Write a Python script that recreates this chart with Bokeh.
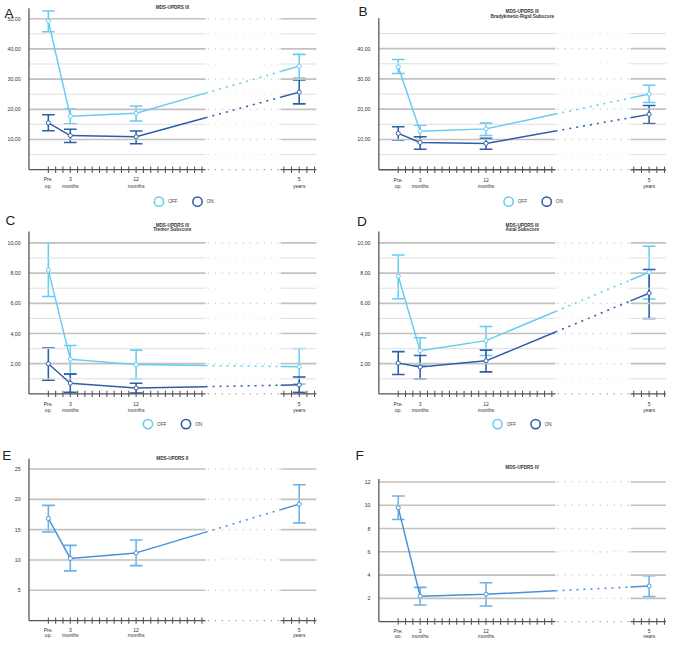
import numpy as np
from bokeh.plotting import figure
from bokeh.models import ColumnDataSource, Whisker, TeeHead
from bokeh.layouts import column, row
from bokeh.embed import file_html
from bokeh.resources import INLINE
from bokeh.core.properties import value

S = 0.976          # overall scale so the 682x654 design fits inside the page margins
FONT = "Liberation Sans"

# ---------------- data ----------------
x_label_line1 = ["Pre.", "3", "12", "5"]
x_label_line2 = ["op.", "months", "months", "years"]
# positions on the broken month axis (5 years sits after the axis break)
time_pos = [0, 3, 12, 34.3]

A_off_mean = [49.2, 17.7, 18.7, 34.3]
A_off_lo = [45.7, 15.2, 16.1, 30.4]
A_off_hi = [52.6, 20.2, 21.1, 38.2]
A_on_mean = [15.5, 11.3, 10.9, 25.7]
A_on_lo = [12.9, 9.0, 8.6, 21.8]
A_on_hi = [18.2, 13.4, 12.8, 29.7]

B_off_mean = [34.0, 12.7, 13.5, 25.0]
B_off_lo = [31.8, 10.9, 11.3, 22.2]
B_off_hi = [36.4, 14.7, 15.4, 27.9]
B_on_mean = [12.0, 9.0, 8.7, 18.3]
B_on_lo = [9.8, 6.8, 6.8, 15.3]
B_on_hi = [14.2, 10.9, 10.4, 21.2]

C_off_mean = [8.2, 2.3, 1.94, 1.8]
C_off_lo = [6.45, 1.33, 1.0, 0.65]
C_off_hi = [10.0, 3.2, 2.9, 3.0]
C_on_mean = [2.0, 0.71, 0.39, 0.6]
C_on_lo = [0.9, 0.1, 0.06, 0.1]
C_on_hi = [3.03, 1.31, 0.71, 1.12]

D_off_mean = [7.8, 2.86, 3.53, 8.06]
D_off_lo = [6.3, 1.9, 2.54, 6.28]
D_off_hi = [9.2, 3.72, 4.47, 9.78]
D_on_mean = [2.04, 1.78, 2.19, 6.67]
D_on_lo = [1.29, 1.0, 1.46, 4.99]
D_on_hi = [2.8, 2.54, 2.9, 8.24]

E_mean = [16.85, 10.25, 11.16, 19.2]
E_lo = [14.6, 8.2, 9.07, 16.1]
E_hi = [19.0, 12.4, 13.3, 22.4]

F_mean = [9.79, 2.18, 2.35, 3.05]
F_lo = [8.78, 1.43, 1.34, 2.15]
F_hi = [10.8, 2.94, 3.33, 3.94]

A_major = [10, 20, 30, 40, 50]
A_minor = [5, 15, 25, 35, 45]
A_labels = ["10,00", "20,00", "30,00", "40,00", "50,00"]
B_major = [10, 20, 30, 40]
B_minor = [5, 15, 25, 35, 45]
B_labels = ["10,00", "20,00", "30,00", "40,00"]
CD_major = [2, 4, 6, 8, 10]
CD_minor = [1, 3, 5, 7, 9]
CD_labels = ["2,00", "4,00", "6,00", "8,00", "10,00"]
E_major = [5, 10, 15, 20, 25]
E_labels = ["5", "10", "15", "20", "25"]
F_major = [2, 4, 6, 8, 10, 12]
F_labels = ["2", "4", "6", "8", "10", "12"]

OFF_C = "#66ccf2"
ON_C = "#2d5ea8"
SINGLE_LINE = "#4a90d8"
SINGLE_BAR = "#6cb0e8"

# axis geometry in month units
XU = 7.49            # px per month unit (design px)
AXIS_X = -2.65
BRK0, BRK1 = 21.5, 31.75
X_END = 36.65
months_ticks = list(range(0, 22))
post_ticks = [time_pos[3] + k * 1.05 for k in (-2, -1, 0, 1, 2)]


def fs(px):
    return f"{px * S:.2f}px"


def make_panel(w, h, pre_px, zero_px, yu, letter, letter_px, titles, title_py,
               major, minor, ylabels, ytop, series, legend=None, xl_gap=(10, 16.3)):
    xr = (-pre_px / XU, (w - pre_px) / XU)
    yr = ((zero_px - h) / yu, zero_px / yu)
    p = figure(width=round(w * S), height=round(h * S), x_range=xr, y_range=yr,
               output_backend="svg", toolbar_location=None,
               x_axis_location=None, y_axis_location=None, min_border=0,
               outline_line_color=None, background_fill_color="white",
               border_fill_color="white")
    p.grid.visible = False

    def px_x(px):
        return (px - pre_px) / XU

    def px_y(py):
        return (zero_px - py) / yu

    # gridlines (broken)
    for vals, col, lw in ((minor, "#dedede", 1.0), (major, "#c2c2c2", 1.7)):
        if not vals:
            continue
        n = len(vals)
        p.segment(x0=[AXIS_X] * n, x1=[BRK0] * n, y0=vals, y1=vals, line_color=col, line_width=lw * S)
        p.segment(x0=[BRK1] * n, x1=[X_END] * n, y0=vals, y1=vals, line_color=col, line_width=lw * S)
        p.segment(x0=[BRK0 + 0.3] * n, x1=[BRK1 - 0.2] * n, y0=vals, y1=vals, line_color=col,
                  line_width=1.3 * S, line_dash=value("1 6"))

    # y axis line
    p.segment(x0=[AXIS_X], x1=[AXIS_X], y0=[0], y1=[ytop], line_color="#555555", line_width=1.3 * S)
    # x baseline
    p.segment(x0=[AXIS_X, BRK1], x1=[BRK0, X_END], y0=[0, 0], y1=[0, 0], line_color="#555555", line_width=1.3 * S)
    p.segment(x0=[BRK0 + 0.3], x1=[BRK1 - 0.2], y0=[0], y1=[0], line_color="#888888",
              line_width=1.2 * S, line_dash=value("1 6"))
    ticks = months_ticks + post_ticks
    dt = 3.3 / yu
    p.segment(x0=ticks, x1=ticks, y0=[-dt] * len(ticks), y1=[dt] * len(ticks), line_color="#555555", line_width=1.1 * S)

    # y tick labels
    p.text(x=[AXIS_X - 8.5 / XU] * len(major), y=major, text=ylabels, text_font=value(FONT),
           text_font_size=fs(5.4), text_align="right", text_baseline="middle", text_color="#333333")
    # x tick labels
    p.text(x=time_pos, y=[px_y(zero_px + xl_gap[0])] * 4, text=x_label_line1, text_font=value(FONT),
           text_font_size=fs(5.2), text_align="center", text_baseline="middle", text_color="#333333")
    p.text(x=time_pos, y=[px_y(zero_px + xl_gap[1])] * 4, text=x_label_line2, text_font=value(FONT),
           text_font_size=fs(5.2), text_align="center", text_baseline="middle", text_color="#333333")

    # title
    for i, t in enumerate(titles):
        p.text(x=[16.95], y=[px_y(title_py + i * 5.0)], text=[t], text_font=value(FONT),
               text_font_size=fs(4.8), text_font_style="bold", text_align="center",
               text_baseline="middle", text_color="#333333")
    # panel letter
    p.text(x=[px_x(letter_px[0])], y=[px_y(letter_px[1])], text=[letter], text_font=value(FONT),
           text_font_size=fs(14), text_align="left", text_baseline="alphabetic", text_color="#222222")

    # data series
    for (mean, lo, hi, lcol, bcol) in series:
        m_brk0 = float(np.interp(BRK0, [time_pos[2], time_pos[3]], [mean[2], mean[3]]))
        m_brk1 = float(np.interp(BRK1, [time_pos[2], time_pos[3]], [mean[2], mean[3]]))
        p.line(x=time_pos[:3] + [BRK0], y=mean[:3] + [m_brk0], line_color=lcol, line_width=1.5 * S)
        p.line(x=[BRK0, BRK1], y=[m_brk0, m_brk1], line_color=lcol, line_width=1.6 * S, line_dash="2 5")
        p.line(x=[BRK1, time_pos[3]], y=[m_brk1, mean[3]], line_color=lcol, line_width=1.5 * S)
        src = ColumnDataSource(dict(x=time_pos, lo=lo, hi=hi))
        wsk = Whisker(base="x", upper="hi", lower="lo", source=src, dimension="height",
                      line_color=bcol, line_width=1.6 * S,
                      upper_head=TeeHead(size=13 * S, line_color=bcol, line_width=1.6 * S),
                      lower_head=TeeHead(size=13 * S, line_color=bcol, line_width=1.6 * S))
        p.add_layout(wsk)
        p.scatter(x=time_pos, y=mean, size=4.2 * S, marker="circle", fill_color="white",
                  line_color=lcol, line_width=1.0 * S)

    # legend
    if legend is not None:
        ly, lx_off, lx_on = legend
        p.scatter(x=[lx_off, lx_on], y=[px_y(ly)] * 2, size=9.5 * S, marker="circle",
                  fill_alpha=0, line_color=[OFF_C, ON_C], line_width=1.6 * S)
        p.text(x=[lx_off + 1.25, lx_on + 1.25], y=[px_y(ly)] * 2, text=["OFF", "ON"],
               text_font=value(FONT), text_font_size=fs(4.8), text_align="left",
               text_baseline="middle", text_color="#444444")
    return p


# row heights (design px): 214, 230, 210 ; left width 340, right width 342
pA = make_panel(340, 214, 49.0, 173.2, 3.09, "A", (4, 13.3), ["MDS-UPDRS III"], 7.3,
                A_major, A_minor, A_labels, 53.5,
                [(A_off_mean, A_off_lo, A_off_hi, OFF_C, OFF_C), (A_on_mean, A_on_lo, A_on_hi, ON_C, ON_C)],
                legend=(206, 15.13, 20.39))
pB = make_panel(342, 214, 67.3, 173.3, 3.1, "B", (26.7, 11.7),
                ["MDS-UPDRS III", "Bradykinetic-Rigid Subscore"], 11.0,
                B_major, B_minor, B_labels, 50.0,
                [(B_off_mean, B_off_lo, B_off_hi, OFF_C, OFF_C), (B_on_mean, B_on_lo, B_on_hi, ON_C, ON_C)],
                legend=(206, 15.09, 20.3))
pC = make_panel(340, 230, 49.0, 189.33, 15.5, "C", (5, 11.5),
                ["MDS-UPDRS III", "Tremor Subscore"], 16.0,
                CD_major, CD_minor, CD_labels, 10.75,
                [(C_off_mean, C_off_lo, C_off_hi, OFF_C, OFF_C), (C_on_mean, C_on_lo, C_on_hi, ON_C, ON_C)],
                legend=(220.3, 13.62, 18.82))
pD = make_panel(342, 230, 67.3, 189.33, 15.5, "D", (25, 12.0),
                ["MDS-UPDRS III", "Axial Subscore"], 16.0,
                CD_major, CD_minor, CD_labels, 10.75,
                [(D_off_mean, D_off_lo, D_off_hi, OFF_C, OFF_C), (D_on_mean, D_on_lo, D_on_hi, ON_C, ON_C)],
                legend=(220.3, 13.58, 18.78))
pE = make_panel(340, 210, 49.0, 191.67, 6.213, "E", (1.7, 22.7), ["MDS-UPDRS II"], 25.3,
                E_major, [], E_labels, 26.7,
                [(E_mean, E_lo, E_hi, SINGLE_LINE, SINGLE_BAR)], xl_gap=(10, 15.0))
pF = make_panel(342, 210, 67.3, 192.67, 11.917, "F", (23.5, 22.7), ["MDS-UPDRS IV"], 34.7,
                F_major, [], F_labels, 12.25,
                [(F_mean, F_lo, F_hi, SINGLE_LINE, SINGLE_BAR)], xl_gap=(10, 15.0))

layout = column(row(pA, pB, spacing=0), row(pC, pD, spacing=0), row(pE, pF, spacing=0), spacing=0)
open("out.html", "w").write(file_html(layout, INLINE))
